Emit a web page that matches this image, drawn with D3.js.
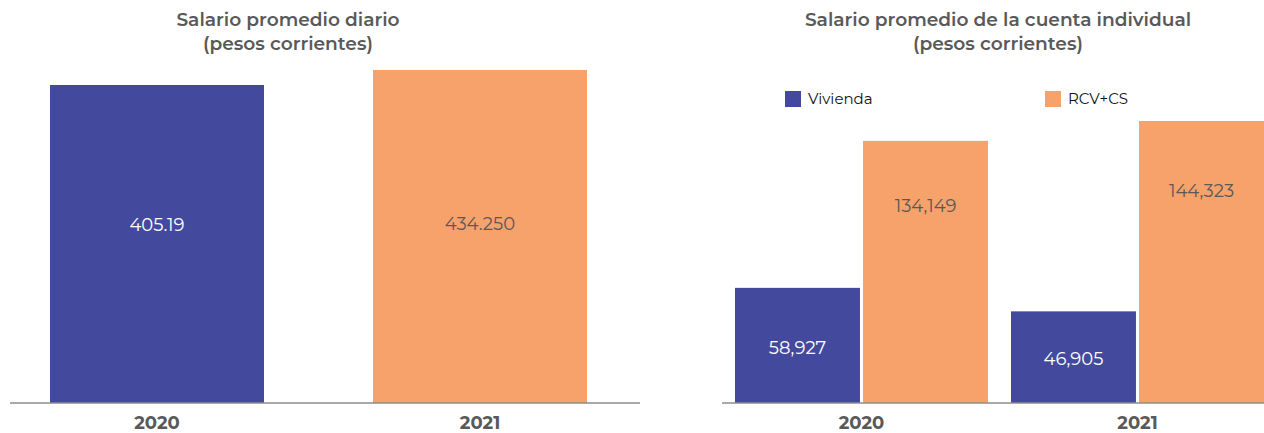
<!DOCTYPE html>
<html>
<head>
<meta charset="utf-8">
<script src="https://cdn.jsdelivr.net/npm/d3@7"></script>
<style>
  body { margin: 0; background: #fff; }
  text { font-family: Montserrat, "DejaVu Sans", sans-serif; }
</style>
</head>
<body>
<div class="chart"></div>
<script>
// data
var years = ["2020", "2021"];
var dailySalary = [405.19, 434.25];
var dailyLabels = ["405.19", "434.250"];

var series = ["Vivienda", "RCV+CS"];
var vivienda = [58927, 46905];
var rcv = [134149, 144323];

var blue = "#434A9E";
var orange = "#F7A26B";
var gray = "#595959";

var svgWidth = 1264;
var svgHeight = 433;
var baseY = 403;

var svg = d3.select(".chart")
  .append("svg")
  .attr("width", svgWidth)
  .attr("height", svgHeight);

function title(cx, lines) {
  var t = svg.append("text")
    .attr("x", cx)
    .attr("y", 26)
    .attr("text-anchor", "middle")
    .attr("font-size", 18.6)
    .attr("font-weight", 600)
    .attr("fill", gray);
  lines.forEach(function(l, i) {
    t.append("tspan").attr("x", cx).attr("dy", i ? 24 : 0).text(l);
  });
}

// ---- left chart
title(288, ["Salario promedio diario", "(pesos corrientes)"]);

var xLeft = d3.scaleBand().domain(years).range([50, 587]).paddingInner(0.3375).paddingOuter(0);
var yLeft = d3.scaleLinear().domain([-211, 434.25]).range([baseY, 70]);
var leftFrac = [0.44, 0.462];

svg.selectAll(".barL")
  .data(years)
  .enter()
  .append("rect")
  .attr("x", function(d) { return xLeft(d); })
  .attr("width", xLeft.bandwidth())
  .attr("y", function(d, i) { return yLeft(dailySalary[i]); })
  .attr("height", function(d, i) { return baseY - yLeft(dailySalary[i]); })
  .attr("fill", function(d, i) { return i ? orange : blue; });

svg.selectAll(".lblL")
  .data(years)
  .enter()
  .append("text")
  .attr("x", function(d) { return xLeft(d) + xLeft.bandwidth() / 2; })
  .attr("y", function(d, i) {
    var top = yLeft(dailySalary[i]);
    return top + (baseY - top) * leftFrac[i] + 6;
  })
  .attr("text-anchor", "middle")
  .attr("font-size", 18)
  .attr("fill", function(d, i) { return i ? gray : "#fff"; })
  .text(function(d, i) { return dailyLabels[i]; });

svg.append("line")
  .attr("x1", 10).attr("x2", 640)
  .attr("y1", baseY).attr("y2", baseY)
  .attr("stroke", "#8c8c8c").attr("stroke-width", 1.5);

svg.selectAll(".yrL")
  .data(years)
  .enter()
  .append("text")
  .attr("x", function(d) { return xLeft(d) + xLeft.bandwidth() / 2; })
  .attr("y", 429)
  .attr("text-anchor", "middle")
  .attr("font-size", 18)
  .attr("font-weight", "bold")
  .attr("fill", gray)
  .text(function(d) { return d; });

// ---- right chart
title(998, ["Salario promedio de la cuenta individual", "(pesos corrientes)"]);

var legendX = [785, 1045];
series.forEach(function(s, i) {
  svg.append("rect")
    .attr("x", legendX[i]).attr("y", 91)
    .attr("width", 16).attr("height", 16)
    .attr("fill", i ? orange : blue);
  svg.append("text")
    .attr("x", legendX[i] + 23).attr("y", 104)
    .attr("font-size", 15)
    .attr("fill", "#111")
    .text(s);
});

var x0 = d3.scaleBand().domain(years).range([735, 1264]).paddingInner(0.0833).paddingOuter(0);
var x1 = d3.scaleBand().domain(series).range([0, x0.bandwidth()]).paddingInner(0.024);
var yRight = d3.scaleLinear().domain([0, 144323]).range([baseY, 121]);

var rows = years.map(function(y, i) {
  return {year: y, values: [
    {key: "Vivienda", value: vivienda[i]},
    {key: "RCV+CS", value: rcv[i]}
  ]};
});
var labelFrac = {"Vivienda": 0.52, "RCV+CS": 0.247};

var groups = svg.selectAll(".grp")
  .data(rows)
  .enter()
  .append("g")
  .attr("transform", function(d) { return "translate(" + x0(d.year) + ",0)"; });

groups.selectAll("rect")
  .data(function(d) { return d.values; })
  .enter()
  .append("rect")
  .attr("x", function(d) { return x1(d.key); })
  .attr("width", x1.bandwidth())
  .attr("y", function(d) { return yRight(d.value); })
  .attr("height", function(d) { return baseY - yRight(d.value); })
  .attr("fill", function(d) { return d.key === "Vivienda" ? blue : orange; });

groups.selectAll("text")
  .data(function(d) { return d.values; })
  .enter()
  .append("text")
  .attr("x", function(d) { return x1(d.key) + x1.bandwidth() / 2; })
  .attr("y", function(d) {
    var top = yRight(d.value);
    return top + (baseY - top) * labelFrac[d.key] + 6;
  })
  .attr("text-anchor", "middle")
  .attr("font-size", 18)
  .attr("fill", function(d) { return d.key === "Vivienda" ? "#fff" : gray; })
  .text(function(d) { return d3.format(",")(d.value); });

svg.append("line")
  .attr("x1", 722).attr("x2", 1264)
  .attr("y1", baseY).attr("y2", baseY)
  .attr("stroke", "#8c8c8c").attr("stroke-width", 1.5);

svg.selectAll(".yrR")
  .data(years)
  .enter()
  .append("text")
  .attr("x", function(d) { return x0(d) + x0.bandwidth() / 2; })
  .attr("y", 429)
  .attr("text-anchor", "middle")
  .attr("font-size", 18)
  .attr("font-weight", "bold")
  .attr("fill", gray)
  .text(function(d) { return d; });
</script>
</body>
</html>
